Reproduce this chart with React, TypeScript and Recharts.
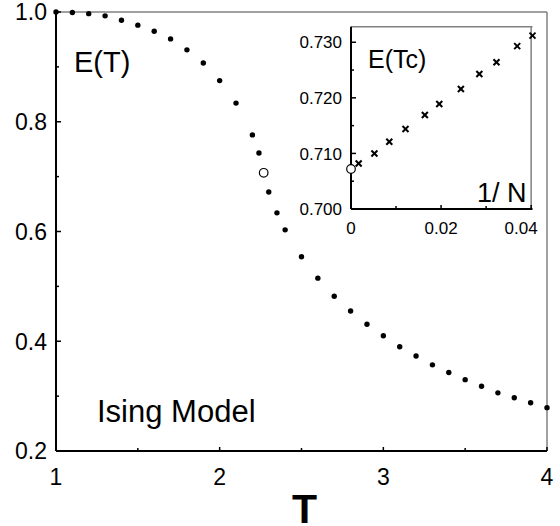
import React from 'react';
import { ScatterChart, Scatter, XAxis, YAxis, ReferenceLine } from 'recharts';

// main curve: E(T) of the Ising model
const temps = [1.0, 1.1, 1.2, 1.3, 1.4, 1.5, 1.6, 1.7, 1.8, 1.9, 2.0, 2.1, 2.2, 2.24, 2.3, 2.35, 2.4, 2.5, 2.6, 2.7, 2.8, 2.9, 3.0, 3.1, 3.2, 3.3, 3.4, 3.5, 3.6, 3.7, 3.8, 3.9, 4.0];
const energy = [1.0, 0.999, 0.997, 0.993, 0.985, 0.976, 0.965, 0.951, 0.931, 0.907, 0.875, 0.834, 0.776, 0.743, 0.672, 0.634, 0.603, 0.554, 0.515, 0.482, 0.455, 0.431, 0.41, 0.39, 0.373, 0.357, 0.343, 0.33, 0.318, 0.306, 0.297, 0.288, 0.279];
const tcTemp = [2.269];
const tcEnergy = [0.707];

// inset: E(Tc) vs 1/N
const invN = [0.0017, 0.0052, 0.0085, 0.0121, 0.0164, 0.0196, 0.0244, 0.0285, 0.0323, 0.0369, 0.0403];
const energyTc = [0.7082, 0.71, 0.7121, 0.7144, 0.7169, 0.7189, 0.7216, 0.7243, 0.7264, 0.7293, 0.7312];
const extrapN = [0];
const extrapE = [0.7072];

const mainXTicks = [1, 1.5, 2, 2.5, 3, 3.5, 4];
const mainXLabels = ['1', '2', '3', '4'];
const mainYTicks = [0.2, 0.3, 0.4, 0.5, 0.6, 0.7, 0.8, 0.9, 1.0];
const mainYLabels = ['0.2', '0.4', '0.6', '0.8', '1.0'];
const insetXTicks = [0, 0.01, 0.02, 0.03, 0.04];
const insetXLabels = ['0', '0.02', '0.04'];
const insetYTicks = [0.7, 0.705, 0.71, 0.715, 0.72, 0.725, 0.73];
const insetYLabels = ['0.700', '0.710', '0.720', '0.730'];

const mainData = temps.map((t, i) => ({ T: t, E: energy[i] }));
const tcData = tcTemp.map((t, i) => ({ T: t, E: tcEnergy[i] }));
const insetData = invN.map((n, i) => ({ n, e: energyTc[i] }));
const extrapData = extrapN.map((n, i) => ({ n, e: extrapE[i] }));

const FONT = '"Liberation Sans", Arial, Helvetica, sans-serif';

const LeftTick = (props: any) => {
  const { x, y, payload, fmt, labels, size, len, gap } = props;
  const text = fmt(payload.value);
  const major = labels.includes(text);
  return (
    <g>
      <line x1={x} x2={x + (major ? len : len * 0.6)} y1={y} y2={y} stroke="#000" strokeWidth={1.5} />
      {major && (
        <text x={x - gap} y={y} dy="0.36em" textAnchor="end" fontSize={size} fill="#000">
          {text}
        </text>
      )}
    </g>
  );
};

const BottomTick = (props: any) => {
  const { x, y, payload, fmt, labels, size, len, offset, lastShift } = props;
  const text = fmt(payload.value);
  const major = labels.includes(text);
  const isLast = text === labels[labels.length - 1];
  return (
    <g>
      <line x1={x} x2={x} y1={y} y2={y - (major ? len : len * 0.75)} stroke="#000" strokeWidth={1.5} />
      {major && (
        <text x={x + (isLast ? lastShift : 0)} y={y + offset} textAnchor="middle" fontSize={size} fill="#000">
          {text}
        </text>
      )}
    </g>
  );
};

const Dot = (p: any) => <circle cx={p.cx} cy={p.cy} r={2.7} fill="#000" />;
const OpenDot = (p: any) => <circle cx={p.cx} cy={p.cy} r={4.3} fill="#fff" stroke="#000" strokeWidth={1.2} />;
const Cross = (p: any) => (
  <g stroke="#000" strokeWidth={2}>
    <line x1={p.cx - 3} y1={p.cy - 3} x2={p.cx + 3} y2={p.cy + 3} />
    <line x1={p.cx - 3} y1={p.cy + 3} x2={p.cx + 3} y2={p.cy - 3} />
  </g>
);

export default function App() {
  return (
    <div style={{ position: 'absolute', left: 0, top: 0, width: 560, height: 526, background: '#fff', fontFamily: FONT }}>
      <ScatterChart width={560} height={526} margin={{ top: 12, right: 13, bottom: 0, left: 0 }}>
        <XAxis
          type="number"
          dataKey="T"
          domain={[1, 4]}
          ticks={mainXTicks}
          interval={0}
          height={75}
          tickSize={0}
          tickMargin={0}
          axisLine={{ stroke: '#000', strokeWidth: 2 }}
          tick={(p: any) => (
            <BottomTick {...p} fmt={(v: number) => String(v)} labels={mainXLabels} size={23} len={4} offset={34} lastShift={0} />
          )}
          label={{ value: 'T', position: 'insideBottom', offset: 3, dx: 3, fontSize: 41, fontWeight: 'bold', fill: '#000' }}
        />
        <YAxis
          type="number"
          dataKey="E"
          domain={[0.2, 1]}
          ticks={mainYTicks}
          interval={0}
          width={56}
          tickSize={0}
          tickMargin={0}
          axisLine={{ stroke: '#000', strokeWidth: 2 }}
          tick={(p: any) => (
            <LeftTick {...p} fmt={(v: number) => v.toFixed(1)} labels={mainYLabels} size={23} len={5} gap={9} />
          )}
        />
        <ReferenceLine y={1} stroke="#808080" strokeWidth={1.5} />
        <ReferenceLine x={4} stroke="#808080" strokeWidth={1.5} />
        <Scatter data={mainData} shape={Dot} isAnimationActive={false} />
        <Scatter data={tcData} shape={OpenDot} isAnimationActive={false} />
        <text x={74} y={72} fontSize={29} fill="#000">E(T)</text>
        <text x={97} y={422} fontSize={31} fill="#000">Ising Model</text>
      </ScatterChart>

      <div style={{ position: 'absolute', left: 280, top: 0 }}>
        <ScatterChart width={280} height={260} margin={{ top: 26.7, right: 27.5, bottom: 0, left: 0 }}>
          <XAxis
            type="number"
            dataKey="n"
            domain={[0, 0.04]}
            ticks={insetXTicks}
            interval={0}
            height={51}
            tickSize={0}
            tickMargin={0}
            axisLine={{ stroke: '#000', strokeWidth: 2 }}
            tick={(p: any) => (
              <BottomTick {...p} fmt={(v: number) => String(v)} labels={insetXLabels} size={17} len={4} offset={25} lastShift={-10} />
            )}
          />
          <YAxis
            type="number"
            dataKey="e"
            domain={[0.7, 0.7328]}
            ticks={insetYTicks}
            interval={0}
            width={71}
            tickSize={0}
            tickMargin={0}
            axisLine={{ stroke: '#000', strokeWidth: 2 }}
            tick={(p: any) => (
              <LeftTick {...p} fmt={(v: number) => v.toFixed(3)} labels={insetYLabels} size={17} len={5} gap={9} />
            )}
          />
          <ReferenceLine y={0.7328} stroke="#808080" strokeWidth={1.5} />
          <ReferenceLine x={0.04} stroke="#808080" strokeWidth={1.5} />
          <Scatter data={insetData} shape={Cross} isAnimationActive={false} />
          <Scatter data={extrapData} shape={OpenDot} isAnimationActive={false} />
          <text x={88} y={68} fontSize={25} fill="#000">E(Tc)</text>
          <text x={197} y={202} fontSize={27} fill="#000">1/ N</text>
        </ScatterChart>
      </div>
    </div>
  );
}
